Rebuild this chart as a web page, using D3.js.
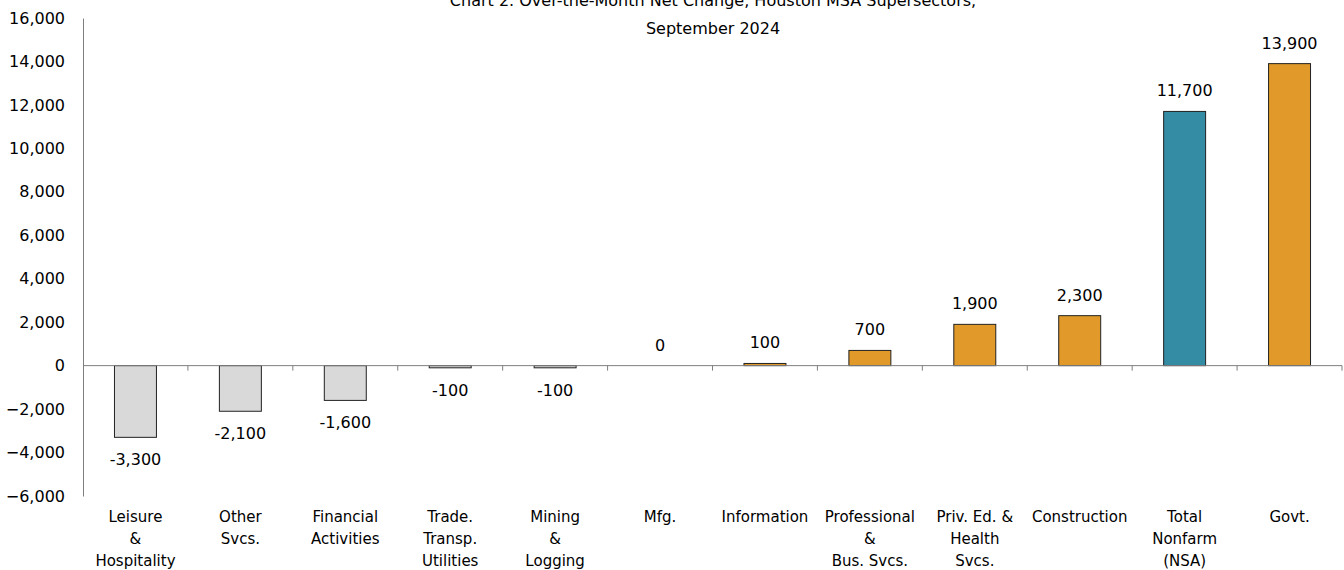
<!DOCTYPE html>
<html>
<head>
<meta charset="utf-8">
<script src="https://cdn.jsdelivr.net/npm/d3@7"></script>
<style>
  body { margin: 0; background: #fff; }
  svg text { font-family: "DejaVu Sans", "Noto Sans", sans-serif; fill: #000; }
</style>
</head>
<body>
<svg id="chart" width="1344" height="570" viewBox="0 0 1344 570"></svg>
<script>
// categories (multi-line labels split on |)
const categories = ["Leisure|&|Hospitality", "Other|Svcs.", "Financial|Activities", "Trade.|Transp.|Utilities",
    "Mining|&|Logging", "Mfg.", "Information", "Professional|&|Bus. Svcs.", "Priv. Ed. &|Health|Svcs.",
    "Construction", "Total|Nonfarm|(NSA)", "Govt."]
const values = [-3300, -2100, -1600, -100, -100, 0, 100, 700, 1900, 2300, 11700, 13900]
const groups = ["neg", "neg", "neg", "neg", "neg", "pos", "pos", "pos", "pos", "pos", "total", "pos"]
const yTicks = [-6000, -4000, -2000, 0, 2000, 4000, 6000, 8000, 10000, 12000, 14000, 16000]
const titleLines = ["Chart 2. Over-the-Month Net Change, Houston MSA Supersectors,", "September 2024"]

let svg = d3.select("#chart")
let plotLeft = 83, plotRight = 1342, plotTop = 18, plotBottom = 496

let x = d3.scaleBand()
    .domain(d3.range(categories.length))
    .range([plotLeft, plotRight])
    .paddingInner(0.6)
    .paddingOuter(0.3)

let y = d3.scaleLinear()
    .domain([-6000, 16000])
    .range([plotBottom, plotTop])

let color = d3.scaleOrdinal()
    .domain(["neg", "pos", "total"])
    .range(["#d9d9d9", "#e19a29", "#348ba4"])

// title, first line sits mostly above the top edge like the source
svg.append("g").selectAll("text")
    .data(titleLines)
    .enter()
    .append("text")
    .attr("x", 713)
    .attr("y", (d, i) => 6 + i * 28)
    .attr("text-anchor", "middle")
    .attr("font-size", 16)
    .text(d => d)

// y axis
let yAxis = svg.append("g")
    .attr("transform", `translate(${plotLeft},0)`)
    .call(d3.axisLeft(y).tickValues(yTicks).tickSize(0).tickPadding(18)
        .tickFormat(d3.format(",")))
yAxis.select(".domain").attr("stroke", "#7f7f7f")
yAxis.selectAll("text").attr("font-size", 16)

// bars
svg.append("g").selectAll("rect")
    .data(values)
    .enter()
    .append("rect")
    .attr("x", (d, i) => x(i))
    .attr("width", x.bandwidth())
    .attr("y", d => y(Math.max(0, d)))
    .attr("height", d => Math.abs(y(d) - y(0)))
    .attr("fill", (d, i) => color(groups[i]))
    .attr("stroke", d => d === 0 ? "none" : "#222")
    .attr("stroke-width", 1)

// x axis line with ticks at category boundaries
let step = (plotRight - plotLeft) / categories.length
svg.append("line")
    .attr("x1", plotLeft).attr("x2", plotRight)
    .attr("y1", y(0)).attr("y2", y(0))
    .attr("stroke", "#7f7f7f")
svg.append("g").selectAll("line")
    .data(d3.range(1, categories.length + 1))
    .enter()
    .append("line")
    .attr("x1", d => plotLeft + d * step).attr("x2", d => plotLeft + d * step)
    .attr("y1", y(0)).attr("y2", y(0) + 5)
    .attr("stroke", "#7f7f7f")

// value labels
svg.append("g").selectAll("text")
    .data(values)
    .enter()
    .append("text")
    .attr("x", (d, i) => x(i) + x.bandwidth() / 2)
    .attr("y", d => d < 0 ? y(d) + 28 : y(d) - 15)
    .attr("text-anchor", "middle")
    .attr("font-size", 16)
    .text(d => d3.format(",")(d).replace("−", "-"))

// category labels
let catLabels = svg.append("g").selectAll("text")
    .data(categories)
    .enter()
    .append("text")
    .attr("text-anchor", "middle")
    .attr("font-size", 15)
catLabels.selectAll("tspan")
    .data((d, i) => d.split("|").map(t => ({t: t, i: i})))
    .enter()
    .append("tspan")
    .attr("x", d => x(d.i) + x.bandwidth() / 2)
    .attr("y", (d, j) => 522 + j * 22)
    .text(d => d.t)
</script>
</body>
</html>
